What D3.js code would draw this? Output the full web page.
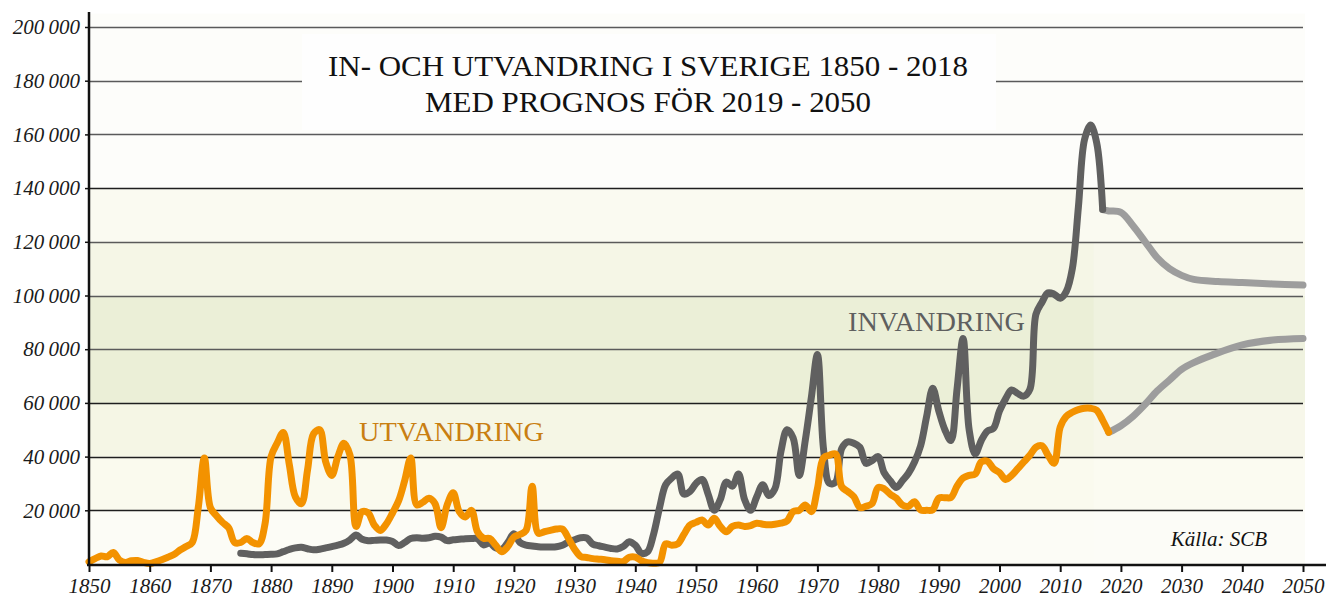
<!DOCTYPE html>
<html lang="sv">
<head>
    <meta charset="UTF-8">
    <title>In- och utvandring i Sverige 1850 - 2018</title>
    <script src="https://d3js.org/d3.v7.min.js"></script>
    <style>
        body {
            margin: 0;
            background: #ffffff;
            font-family: "Liberation Serif", "DejaVu Serif", serif;
        }

        .tick-label {
            font-family: "Liberation Serif", serif;
            font-style: italic;
            font-size: 21px;
            fill: #1a1a1a;
        }

        .series {
            fill: none;
            stroke-width: 7;
            stroke-linecap: round;
            stroke-linejoin: round;
        }
    </style>
</head>
<body>
    <div id="chart"></div>

    <script>
        // emigration (utvandring) per year, 1850 - 2018
        const utvStart = 1850;
        const utvValues = [
            800, 2000, 3000, 2700, 4300, 1500, 600, 1200, 1300, 600,
            200, 800, 1600, 2500, 3500, 5200, 6500, 8000, 21000, 39500,
            21000, 18000, 15500, 13500, 8000, 8000, 9500, 8000, 7500, 15000,
            40000, 45000, 49000, 37000, 25000, 22500, 35000, 48500, 50000, 38000,
            33000, 40000, 45000, 40500, 14000, 19500, 19000, 14500, 12500, 15000,
            19000, 23500, 31000, 39500, 22000, 23000, 24500, 22500, 13500, 22000,
            26500, 19500, 17500, 20000, 12000, 9600, 9500, 7000, 4600, 6500,
            10000, 11000, 12500, 29000, 11500, 12000, 12500, 13000, 13000, 9500,
            5500, 2800, 2400, 2000, 1800, 1600, 1200, 1000, 900, 2500,
            2600, 1200, 500, 300, 600, 7500, 7000, 7500, 11000, 14500,
            15500, 16400, 14500, 17000, 14000, 12000, 14000, 14500, 14000, 14300,
            15200, 14800, 14600, 14800, 15200, 16000, 19500, 20000, 22000, 19500,
            28000, 39500, 40500, 41000, 28800, 27000, 25100, 21000, 21500, 22500,
            28500, 28000, 26000, 24500, 22000, 21500, 23200, 20100, 20000, 20200,
            24500, 24700, 24800, 29000, 32000, 33000, 33500, 38000, 38300, 35500,
            34000, 31500, 33000, 35500, 38000, 40500, 43500, 44000, 40500, 37500,
            51000, 55000, 56500, 57500, 58000, 58000, 57300, 53500, 49000
        ];

        // immigration (invandring) per year, 1875 - 2017
        const invStart = 1875;
        const invValues = [
            4000, 3800, 3500, 3400, 3500, 3600, 3800, 4600, 5400, 6000,
            6200, 5700, 5300, 5500, 6000, 6500, 7000, 7700, 9000, 10800,
            9200, 8700, 8800, 8900, 8900, 8400, 6900, 8000, 9500, 9800,
            9600, 9800, 10300, 10000, 8700, 9000, 9200, 9400, 9500, 9400,
            7100, 7800, 6000, 5500, 8000, 11300, 8000, 7000, 6700, 6400,
            6300, 6300, 6400, 7000, 8200, 9000, 9800, 9700, 7400, 6800,
            6300, 5800, 5600, 6500, 8300, 7000, 4000, 4500, 11000, 21000,
            29500, 32000, 33500, 26000, 27000, 30000, 31500, 26000, 20000, 24000,
            30500, 29000, 33500, 24000, 20000, 25000, 29500, 25500, 28000, 42000,
            50000, 47000, 33000, 46000, 62000, 78000, 43000, 30000, 30500, 43000,
            45500, 45000, 43500, 37500, 38500, 40000, 34000, 31000, 28500, 31000,
            33800, 38000, 44000, 55000, 65500, 57000, 50000, 46000, 65000, 84000,
            50000, 41000, 46000, 49500, 50500, 57000, 61500, 64800, 63500, 62500,
            65000, 93000, 97500, 101000, 100500, 99000, 101500, 110000, 133000, 158000,
            163500, 157000, 132000
        ];

        // forecasts (prognos)
        const progInvYears = [2017, 2018, 2020, 2022, 2024, 2026, 2028, 2030, 2032, 2036, 2040, 2045, 2050];
        const progInvValues = [132000, 131500, 131000, 126000, 120000, 114000, 110000, 107500, 106000, 105200, 104800, 104300, 103900];
        const progUtvYears = [2018, 2020, 2022, 2024, 2026, 2028, 2030, 2032, 2035, 2040, 2045, 2050];
        const progUtvValues = [49000, 51500, 55000, 59500, 64500, 68500, 72500, 75000, 77800, 81600, 83400, 84000];

        const yTicks = [20000, 40000, 60000, 80000, 100000, 120000, 140000, 160000, 180000, 200000];
        const xTicks = d3.range(1850, 2051, 10);

        // background bands [from, to, colour]
        const bands = [
            [0, 20000, "#fcfcf6"],
            [20000, 40000, "#fafaee"],
            [40000, 60000, "#f5f6e5"],
            [60000, 100000, "#ebefd7"],
            [100000, 120000, "#f5f6e6"],
            [120000, 140000, "#fafaf1"],
            [140000, 205000, "#fdfdfa"]
        ];

        const totalWidth = 1330, totalHeight = 606;
        const x0 = 89, x1 = 1303, yBase = 564, yTop = 27;

        const svg = d3.select("#chart")
            .append("svg")
            .attr("width", totalWidth)
            .attr("height", totalHeight);

        const x = d3.scaleLinear().domain([1850, 2050]).range([x0, x1]);
        const y = d3.scaleLinear().domain([0, 200000]).range([yBase, yTop]);

        // bands
        svg.append("g").selectAll("rect")
            .data(bands)
            .join("rect")
            .attr("x", x0)
            .attr("width", x1 + 2 - x0)
            .attr("y", d => y(d[1]))
            .attr("height", d => y(d[0]) - y(d[1]))
            .attr("fill", d => d[2]);

        // forecast area is a touch lighter
        svg.append("rect")
            .attr("x", x(2015.5))
            .attr("width", x1 + 2 - x(2015.5))
            .attr("y", y(120000))
            .attr("height", y(0) - y(120000))
            .attr("fill", "#ffffff")
            .attr("opacity", 0.2);

        // gridlines
        const darkGrid = [20000, 40000, 60000, 140000];
        svg.append("g").selectAll("line")
            .data(yTicks)
            .join("line")
            .attr("x1", x0)
            .attr("x2", x1)
            .attr("y1", d => Math.round(y(d)) + 0.5)
            .attr("y2", d => Math.round(y(d)) + 0.5)
            .attr("stroke", d => darkGrid.includes(d) ? "#1e1e1e" : "#5a5a5a")
            .attr("stroke-width", 1.3);

        // title box
        svg.append("rect")
            .attr("x", 302)
            .attr("y", 34)
            .attr("width", 694)
            .attr("height", 96)
            .attr("fill", "#fefefe");

        svg.append("text")
            .attr("x", 648)
            .attr("y", 76)
            .attr("text-anchor", "middle")
            .attr("font-size", 30)
            .attr("fill", "#111")
            .attr("textLength", 640)
            .attr("lengthAdjust", "spacingAndGlyphs")
            .text("IN- OCH UTVANDRING I SVERIGE 1850 - 2018");

        svg.append("text")
            .attr("x", 648)
            .attr("y", 112)
            .attr("text-anchor", "middle")
            .attr("font-size", 30)
            .attr("fill", "#111")
            .attr("textLength", 446)
            .attr("lengthAdjust", "spacingAndGlyphs")
            .text("MED PROGNOS FÖR 2019 - 2050");

        // lines
        const line = d3.line()
            .x(d => x(d[0]))
            .y(d => y(d[1]))
            .curve(d3.curveCatmullRom.alpha(0.5));

        const utv = utvValues.map((v, i) => [utvStart + i, v]);
        const inv = invValues.map((v, i) => [invStart + i, v]);
        const progInv = progInvYears.map((yr, i) => [yr, progInvValues[i]]);
        const progUtv = progUtvYears.map((yr, i) => [yr, progUtvValues[i]]);

        svg.append("path").datum(progInv).attr("class", "series")
            .attr("stroke", "#9d9d9d").attr("d", line);
        svg.append("path").datum(progUtv).attr("class", "series")
            .attr("stroke", "#9d9d9d").attr("d", line);
        svg.append("path").datum(inv).attr("class", "series")
            .attr("stroke", "#606060").attr("d", line);
        svg.append("path").datum(utv).attr("class", "series")
            .attr("stroke", "#f39200").attr("d", line);

        // series labels
        svg.append("text")
            .attr("x", 359)
            .attr("y", 441)
            .attr("font-size", 27)
            .attr("fill", "#c97f12")
            .attr("textLength", 185)
            .attr("lengthAdjust", "spacingAndGlyphs")
            .text("UTVANDRING");

        svg.append("text")
            .attr("x", 848)
            .attr("y", 331)
            .attr("font-size", 27)
            .attr("fill", "#5f5f5f")
            .attr("textLength", 177)
            .attr("lengthAdjust", "spacingAndGlyphs")
            .text("INVANDRING");

        // source
        svg.append("text")
            .attr("x", 1267)
            .attr("y", 546)
            .attr("text-anchor", "end")
            .attr("font-size", 21)
            .attr("font-style", "italic")
            .attr("fill", "#111")
            .text("Källa: SCB");

        // x axis
        const xAxis = svg.append("g")
            .attr("transform", `translate(0,${yBase + 1})`)
            .call(d3.axisBottom(x).tickValues(xTicks).tickSize(7).tickSizeOuter(0).tickFormat(d3.format("d")))
            .attr("font-family", null)
            .attr("font-size", null);
        xAxis.select(".domain").remove();
        xAxis.selectAll(".tick line").attr("stroke", "#111").attr("stroke-width", 2);
        xAxis.selectAll(".tick text")
            .attr("class", "tick-label")
            .attr("y", 28)
            .attr("dy", null)
            .attr("fill", "#1a1a1a");
        xAxis.append("line")
            .attr("x1", x0 - 2).attr("x2", 1326)
            .attr("y1", 0).attr("y2", 0)
            .attr("stroke", "#111").attr("stroke-width", 2.5);

        // y axis
        const fmt = d => d3.format(",")(d).replace(",", "\u2009");
        const yAxis = svg.append("g")
            .attr("transform", `translate(${x0},0)`)
            .call(d3.axisLeft(y).tickValues(yTicks).tickSize(4).tickSizeOuter(0).tickFormat(fmt))
            .attr("font-family", null)
            .attr("font-size", null);
        yAxis.select(".domain").remove();
        yAxis.selectAll(".tick line").attr("stroke", "#111").attr("stroke-width", 1.5);
        yAxis.selectAll(".tick text")
            .attr("class", "tick-label")
            .attr("x", -9)
            .attr("fill", "#1a1a1a");
        yAxis.append("line")
            .attr("x1", 0).attr("x2", 0)
            .attr("y1", 12).attr("y2", yBase + 2)
            .attr("stroke", "#111").attr("stroke-width", 2.5);
    </script>
</body>
</html>
